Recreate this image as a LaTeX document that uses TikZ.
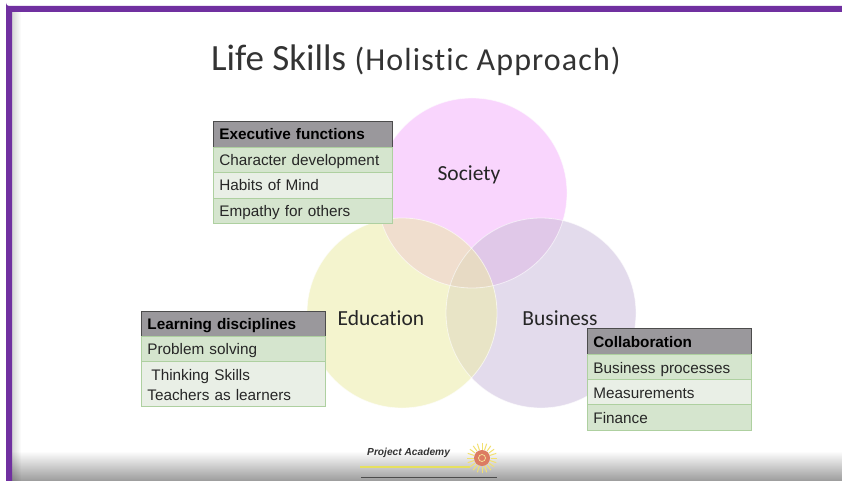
\documentclass[tikz,border=0pt]{standalone}
\usepackage{fontspec}
\setmainfont{Liberation Sans}
\newfontfamily\calfont[Ligatures=NoCommon]{Carlito}
\definecolor{framepurple}{HTML}{7030A0}
\definecolor{headgray}{HTML}{9A989C}
\definecolor{rowdark}{HTML}{D5E5CE}
\definecolor{rowlight}{HTML}{E9EFE6}
\definecolor{rowline}{HTML}{AED0A0}
\definecolor{txt}{HTML}{262626}
\definecolor{suncore}{HTML}{DC7C62}
\definecolor{sunray}{HTML}{F2E070}
\definecolor{logoline}{HTML}{E6E060}
\definecolor{socfill}{HTML}{F9D5FD}
\definecolor{edufill}{HTML}{F4F4CE}
\definecolor{busfill}{HTML}{E3DBEC}
\definecolor{sefill}{HTML}{F0DECE}
\definecolor{sbfill}{HTML}{E0C8E8}
\definecolor{ebfill}{HTML}{E8E4C6}
\definecolor{sebfill}{HTML}{E7DAC4}
\tikzset{
 x=1pt,y=-1pt,
 venn/.style={circle,minimum size=190pt,inner sep=0pt},
 vennlabel/.style={font=\calfont\fontsize{21.5}{25}\selectfont,text=txt,inner sep=0pt},
 rowbase/.style={anchor=north west,draw=rowline,line width=.8pt,text=txt,inner sep=0pt,align=left,
   font=\fontsize{15.3}{18}\selectfont,text height=12.5pt,text depth=1.5pt},
 headrow/.style={rowbase,fill=headgray,draw=black!70,text=black,font=\bfseries\fontsize{15.3}{18}\selectfont},
 darkrow/.style={rowbase,fill=rowdark},
 lightrow/.style={rowbase,fill=rowlight},
 lowtext/.style={text height=13.5pt,text depth=.5pt},
 rimline/.style={draw=white,draw opacity=.6,line width=.8pt},
}
\begin{document}
\begin{tikzpicture}
\useasboundingbox (0,0) rectangle (842,481);
\fill[white] (0,0) rectangle (842,481);
% inner shadows and frame
\begin{scope}
\clip (12,440) rectangle (842,481);
\shade[top color=white,bottom color=black!52] (12,451) rectangle (842,491);
\end{scope}
\foreach \i in {0,...,8}{\fill[black,opacity={.16*(1-\i/9)}] (12+\i,12) rectangle (13+\i,481);}
\fill[framepurple] (842,6) -- (9,6) arc[start angle=90,end angle=180,radius=3] -- (6,481) -- (12,481) -- (12,12) -- (842,12) -- cycle;
% title
\node[anchor=base west,inner sep=0pt,text=black!80] (title) at (211,71)
 {\calfont\fontsize{37}{40}\selectfont Life Skills \addfontfeature{LetterSpace=3.5}\fontsize{32}{34}\selectfont (Holistic Approach)};
% circles
\node[venn,fill=socfill] (society) at (472,193) {};
\node[venn,fill=busfill] (business) at (541,313) {};
\node[venn,fill=edufill] (education) at (402,313) {};
\begin{scope}
 \clip (society.center) circle[radius=95];
 \fill[sefill] (education.center) circle[radius=95];
 \fill[sbfill] (business.center) circle[radius=95];
 \clip (education.center) circle[radius=95];
 \fill[sebfill] (business.center) circle[radius=95];
\end{scope}
\begin{scope}
 \clip (education.center) circle[radius=95];
 \clip (business.center) circle[radius=95];
 \fill[ebfill] (347,118) rectangle (596,408);
 \clip (society.center) circle[radius=95];
 \fill[sebfill] (347,118) rectangle (596,408);
\end{scope}
\path[rimline] (society.center) circle[radius=95];
\path[rimline] (business.center) circle[radius=95];
\path[rimline] (education.center) circle[radius=95];
\node[vennlabel] (lsoc) at (469,175) {Society};
\node[vennlabel] (ledu) at (381,318) {Education};
\node[vennlabel] (lbus) at (560,318) {Business};
% executive functions table
\node[headrow,minimum width=179pt,minimum height=26pt,text width=179pt] (exec) at (213,121) {\hspace*{6pt}Executive functions};
\node[darkrow,minimum width=179pt,minimum height=25pt,text width=179pt] (exec1) at (213,147) {\hspace*{6pt}Character development};
\node[lightrow,minimum width=179pt,minimum height=26pt,text width=179pt] (exec2) at (213,172) {\hspace*{6pt}Habits of Mind};
\node[darkrow,minimum width=179pt,minimum height=25pt,text width=179pt] (exec3) at (213,198) {\hspace*{6pt}Empathy for others};
% learning disciplines table
\node[headrow,minimum width=184pt,minimum height=25pt,text width=184pt] (learn) at (141,311) {\hspace*{6pt}Learning disciplines};
\node[darkrow,minimum width=184pt,minimum height=25pt,text width=184pt] (learn1) at (141,336) {\hspace*{6pt}Problem solving};
\node[lightrow,minimum height=45pt,text width=178pt,inner xsep=3pt,text height=14pt,text depth=20pt] (learn2) at (141,361) {\hspace*{7pt}Thinking Skills\\[2pt]\hspace*{3pt}Teachers as learners};
% collaboration table
\node[headrow,lowtext,minimum width=164pt,minimum height=26pt,text width=164pt] (coll) at (587,328) {\hspace*{6pt}Collaboration};
\node[darkrow,lowtext,minimum width=164pt,minimum height=25pt,text width=164pt] (coll1) at (587,354) {\hspace*{6pt}Business processes};
\node[lightrow,lowtext,minimum width=164pt,minimum height=25pt,text width=164pt] (coll2) at (587,379) {\hspace*{6pt}Measurements};
\node[darkrow,lowtext,minimum width=164pt,minimum height=26pt,text width=164pt] (coll3) at (587,404) {\hspace*{6pt}Finance};
% logo
\node[anchor=west,inner sep=0pt,text=black!80,font=\bfseries\itshape\fontsize{10.2}{12}\selectfont] (logo) at (367,453) {Project Academy};
\draw[logoline,line width=1.5pt] (360,467) -- (470,467);
\draw[black!70,line width=1pt] (361,477) -- (497,477);
\foreach \a in {0,18,...,342}{\draw[sunray,line width=1pt] (482,458) ++(\a:8.5) -- ++(\a:6.5);}
\fill[suncore] (482,458) circle[radius=8];
\draw[sunray!70!white,line width=.7pt] (482,458) circle[radius=3.5];
\end{tikzpicture}
\end{document}
